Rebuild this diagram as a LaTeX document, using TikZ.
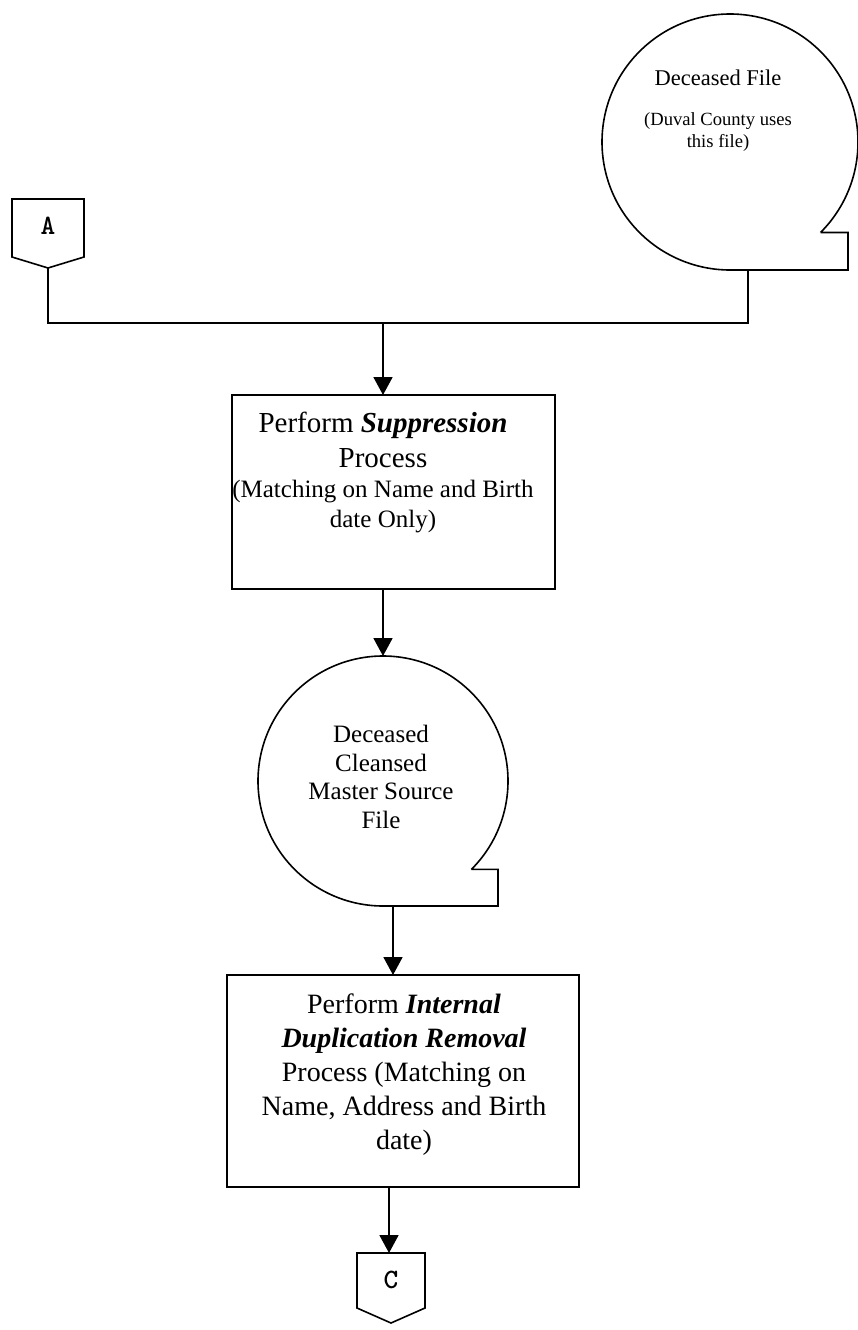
\documentclass[tikz,border=0pt]{standalone}
\usepackage{fontspec}
\setmainfont{Liberation Serif}
\usetikzlibrary{arrows.meta}
\begin{document}
\begin{tikzpicture}[x=1pt,y=1pt,
  conn/.style={line width=1.8pt},
  arr/.style={line width=1.8pt,-{Triangle[length=18pt,width=19pt]}},
  procbox/.style={draw,line width=1.8pt,rectangle,inner sep=0pt,outer sep=0pt},
  shapeline/.style={line width=1.6pt,line join=miter},
  offpage/.style={inner sep=0pt,font=\ttfamily\bfseries\fontsize{28}{28}\selectfont},
  txt/.style={inner sep=0pt,align=center,anchor=north}]
\useasboundingbox (0,0) rectangle (857,-1330);

% off-page connector A
\node[offpage] (A) at (48,-226) {A};
\draw[shapeline] (12,-199) -- (84,-199) -- (84,-257) -- (48,-268) -- (12,-257) -- cycle;
\coordinate (Abot) at (48,-268);

% Deceased File (stored data symbol)
\node[circle,minimum size=256pt,inner sep=0pt,outer sep=0pt] (df) at (730,-142) {};
\draw[shapeline] (df.-45) arc[start angle=-45,end angle=270,radius=128pt] -- (848,-270) |- (df.-45);
\node[inner sep=0pt,anchor=base,font=\fontsize{22.5}{26}\selectfont] (dft1) at (718,-85) {Deceased File};
\node[txt,font=\fontsize{18.6}{22}\selectfont] (dft2) at (718,-112) {(Duval County uses\\this file)};
\coordinate (dfout) at (748,-270);

% joins
\coordinate (jL) at (48,-323);
\coordinate (jR) at (748,-323);
\coordinate (jM) at (383,-323);
\draw[conn] (Abot) -- (jL) -- (jR) -- (dfout);

% Box 1
\node[procbox,minimum width=323pt,minimum height=194pt] (box1) at (393.5,-492) {};
\node[txt,font=\fontsize{29}{35}\selectfont] (b1t1) at (383,-412) {Perform \textbf{\textit{Suppression}}\\Process};
\node[txt,font=\fontsize{25}{30}\selectfont] (b1t2) at (383,-480) {(Matching on Name and Birth\\date Only)};
\draw[arr] (jM) -- (jM |- box1.north);

% Circle 2
\node[circle,minimum size=250pt,inner sep=0pt,outer sep=0pt] (dc) at (383,-781) {};
\draw[shapeline] (dc.-45) arc[start angle=-45,end angle=270,radius=125pt] -- (498,-906) |- (dc.-45);
\node[txt,font=\fontsize{25}{28.5}\selectfont] (dct) at (381,-725) {Deceased\\Cleansed\\Master Source\\File};
\coordinate (b1out) at (383,-589);
\draw[arr] (b1out) -- (b1out |- dc.north);
\coordinate (dcout) at (393,-906);

% Box 2
\node[procbox,minimum width=352pt,minimum height=212pt] (box2) at (403,-1081) {};
\node[txt,font=\fontsize{28}{34}\selectfont] (b2t) at (404,-994) {Perform \textbf{\textit{Internal}}\\\textbf{\textit{Duplication Removal}}\\Process (Matching on\\Name, Address and Birth\\date)};
\draw[arr] (dcout) -- (dcout |- box2.north);

% off-page connector C
\node[offpage] (C) at (391,-1280) {C};
\draw[shapeline] (357,-1253) -- (425,-1253) -- (425,-1308) -- (391,-1323) -- (357,-1308) -- cycle;
\coordinate (Ctop) at (389,-1253);
\coordinate (b2out) at (389,-1187);
\draw[arr] (b2out) -- (Ctop);
\end{tikzpicture}
\end{document}
